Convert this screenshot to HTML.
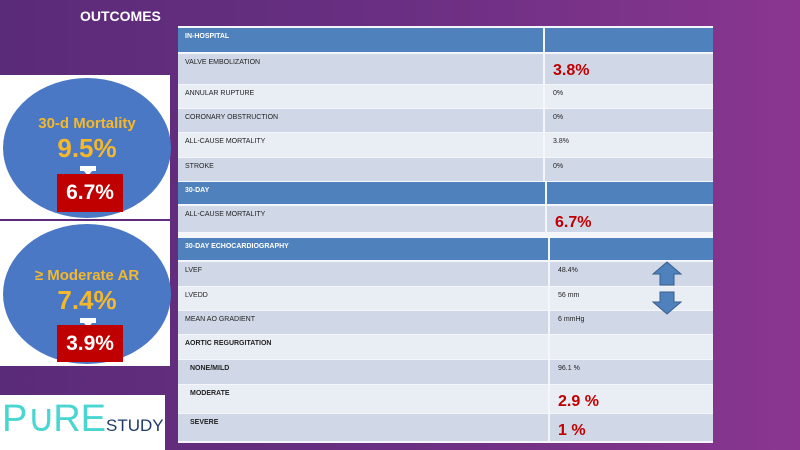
<!DOCTYPE html>
<html><head><style>
*{margin:0;padding:0;box-sizing:border-box}
body{width:800px;height:450px;overflow:hidden;position:relative;font-family:"Liberation Sans",sans-serif;background:linear-gradient(90deg,#5a2b78 0%,#6a2f82 50%,#8a3690 100%)}
.a{position:absolute}
.r{position:absolute;left:178px;width:535px;font-size:7px;color:#222}
.r div{position:absolute;top:0;bottom:0}
.l{left:0;padding:5px 0 0 7px}
.v{padding:5px 0 0 8px;border-left:2px solid #f4f6fb;right:0}
.h{background:#4f81bd;color:#fff;font-weight:bold}
.d{background:#d0d8e8}.e{background:#e9edf4}
.big{color:#c00000;font-weight:bold;font-size:16px;padding-top:8px!important}
.circ{position:absolute;border-radius:50%;background:#4a78c4;text-align:center;color:#f5b82a;font-weight:bold}
.box{position:absolute;background:#c00000;color:#fff;font-weight:bold;font-size:21px;text-align:center}
</style></head><body>
<div class="a" style="left:80px;top:8px;color:#fff;font-weight:bold;font-size:14px">OUTCOMES</div>
<div class="a" style="left:0;top:75px;width:170px;height:144px;background:#fff"></div>
<div class="a" style="left:0;top:221px;width:170px;height:145px;background:#fff"></div>
<div class="circ" style="left:3px;top:78px;width:168px;height:140px"><div style="font-size:15px;margin-top:37px">30-d Mortality</div><div style="font-size:26px;margin-top:1px">9.5%</div></div>
<div class="a" style="left:80px;top:166px;width:16px;height:10px;background:#fff;clip-path:polygon(0 0,100% 0,100% 50%,75% 50%,50% 100%,25% 50%,0 50%)"></div>
<div class="box" style="left:57px;top:174px;width:66px;height:38px;line-height:38px">6.7%</div>
<div class="circ" style="left:3px;top:224px;width:168px;height:140px"><div style="font-size:15px;margin-top:43px">≥ Moderate AR</div><div style="font-size:26px;margin-top:1px">7.4%</div></div>
<div class="a" style="left:80px;top:318px;width:16px;height:10px;background:#fff;clip-path:polygon(0 0,100% 0,100% 50%,75% 50%,50% 100%,25% 50%,0 50%)"></div>
<div class="box" style="left:57px;top:325px;width:66px;height:37px;line-height:37px">3.9%</div>
<div class="a" style="left:0;top:395px;width:165px;height:55px;background:#fff;font-size:38px;color:#4ad6d0;line-height:48px;padding-left:2px">P<span style="letter-spacing:-2px">∪</span>RE<span style="font-size:17px;color:#1f3a6b">STUDY</span></div>
<div class="a" style="left:178px;top:26px;width:535px;height:417px;background:#f4f6fb"></div>
<div class="r h" style="top:28px;height:24px"><div class="l">IN-HOSPITAL</div><div class="v" style="left:365px"></div></div>
<div class="r d" style="top:54px;height:30px"><div class="l">VALVE EMBOLIZATION</div><div class="v big" style="left:365px">3.8%</div></div>
<div class="r e" style="top:85px;height:23px"><div class="l">ANNULAR RUPTURE</div><div class="v" style="left:365px">0%</div></div>
<div class="r d" style="top:109px;height:23px"><div class="l">CORONARY OBSTRUCTION</div><div class="v" style="left:365px">0%</div></div>
<div class="r e" style="top:133px;height:24px"><div class="l">ALL-CAUSE MORTALITY</div><div class="v" style="left:365px">3.8%</div></div>
<div class="r d" style="top:158px;height:23px"><div class="l">STROKE</div><div class="v" style="left:365px">0%</div></div>
<div class="r h" style="top:182px;height:22px"><div class="l">30-DAY</div><div class="v" style="left:367px"></div></div>
<div class="r d" style="top:206px;height:26px"><div class="l">ALL-CAUSE MORTALITY</div><div class="v big" style="left:367px">6.7%</div></div>
<div class="r h" style="top:238px;height:22px"><div class="l">30-DAY ECHOCARDIOGRAPHY</div><div class="v" style="left:370px"></div></div>
<div class="r d" style="top:262px;height:24px"><div class="l">LVEF</div><div class="v" style="left:370px">48.4%</div></div>
<div class="r e" style="top:287px;height:23px"><div class="l">LVEDD</div><div class="v" style="left:370px">56 mm</div></div>
<div class="r d" style="top:311px;height:23px"><div class="l">MEAN AO GRADIENT</div><div class="v" style="left:370px">6 mmHg</div></div>
<div class="r e" style="top:335px;height:24px;font-weight:bold"><div class="l">AORTIC REGURGITATION</div><div class="v" style="left:370px"></div></div>
<div class="r d" style="top:360px;height:24px;font-weight:bold"><div class="l" style="padding-left:12px">NONE/MILD</div><div class="v" style="left:370px;font-weight:normal">96.1 %</div></div>
<div class="r e" style="top:385px;height:28px;font-weight:bold"><div class="l" style="padding-left:12px">MODERATE</div><div class="v big" style="left:370px">2.9 %</div></div>
<div class="r d" style="top:414px;height:27px;font-weight:bold"><div class="l" style="padding-left:12px">SEVERE</div><div class="v big" style="left:370px">1 %</div></div>
<svg class="a" style="left:650px;top:260px" width="34" height="56">
<polygon points="17,2 31,14 24,14 24,25 10,25 10,14 3,14" fill="#4f81bd" stroke="#385d8a"/>
<polygon points="10,32 24,32 24,42 31,42 17,54 3,42 10,42" fill="#4f81bd" stroke="#385d8a"/>
</svg>
</body></html>
